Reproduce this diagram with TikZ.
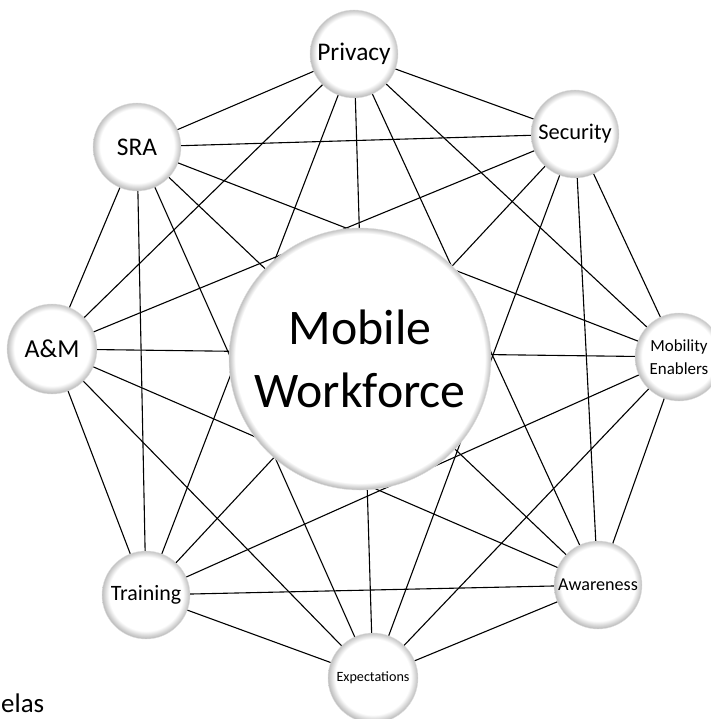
\documentclass[tikz,border=0pt]{standalone}
\usepackage{fontspec}
\setmainfont{Carlito}
\usetikzlibrary{backgrounds}
\definecolor{rimColor}{HTML}{BEBEBE}
\definecolor{outlineColor}{HTML}{E0E0E0}
\definecolor{linkColor}{HTML}{000000}
\definecolor{labelTextColor}{HTML}{000000}
\def\textA{Privacy}
\def\textB{Security}
\def\textC{Mobility\\Enablers}
\def\textD{Awareness}
\def\textE{Expectations}
\def\textF{Training}
\def\textG{A\&M}
\def\textH{SRA}
\def\textI{Mobile\\Workforce}
\pgfdeclareradialshading{buttonShade}{\pgfpoint{0bp}{1bp}}{color(0bp)=(white); color(21bp)=(white); color(25bp)=(rimColor); color(50bp)=(rimColor)}
\pgfdeclareradialshading{bigShade}{\pgfpoint{0bp}{0.3bp}}{color(0bp)=(white); color(23.8bp)=(white); color(25bp)=(rimColor); color(50bp)=(rimColor)}

\begin{document}
\begin{tikzpicture}[x=1bp,y=-1bp,
  bubble/.style={circle, inner sep=0pt, minimum size=88bp, shade, shading=buttonShade,
    draw=outlineColor, line width=0.4bp, align=center, text=labelTextColor},
  link/.style={color=linkColor, line width=1.1bp}]

% page frame
\useasboundingbox (0, 0) rectangle (711, 719);
\clip (0, 0) rectangle (711, 719);

% node layer
\begin{scope}
\node[bubble, font=\fontsize{25.5}{30}\selectfont] (privacy) at (354, 54) {\textA};
\node[bubble, font=\fontsize{22.5}{27}\selectfont] (security) at (575, 134) {\textB};
\node[bubble, font=\fontsize{17}{22.5}\selectfont] (mobility) at (679, 357) {\textC};
\node[bubble, font=\fontsize{18.2}{22}\selectfont] (awareness) at (598, 585) {\textD};
\node[bubble, minimum size=90bp, font=\fontsize{14.2}{18}\selectfont] (expectations) at (373, 678) {\textE};
\node[bubble, font=\fontsize{22}{26}\selectfont] (training) at (146, 595) {\textF};
\node[bubble, minimum size=90bp, font=\fontsize{26}{30}\selectfont] (am) at (52, 349) {\textG};
\node[bubble, font=\fontsize{25.5}{30}\selectfont] (sra) at (137, 147) {\textH};
\end{scope}

% link layer
\begin{scope}
\draw[link] (privacy) -- (security);
\draw[link] (privacy) -- (mobility);
\draw[link] (privacy) -- (awareness);
\draw[link] (privacy) -- (expectations);
\draw[link] (privacy) -- (training);
\draw[link] (privacy) -- (am);
\draw[link] (privacy) -- (sra);
\draw[link] (security) -- (mobility);
\draw[link] (security) -- (awareness);
\draw[link] (security) -- (expectations);
\draw[link] (security) -- (training);
\draw[link] (security) -- (am);
\draw[link] (security) -- (sra);
\draw[link] (mobility) -- (awareness);
\draw[link] (mobility) -- (expectations);
\draw[link] (mobility) -- (training);
\draw[link] (mobility) -- (am);
\draw[link] (mobility) -- (sra);
\draw[link] (awareness) -- (expectations);
\draw[link] (awareness) -- (training);
\draw[link] (awareness) -- (am);
\draw[link] (awareness) -- (sra);
\draw[link] (expectations) -- (training);
\draw[link] (expectations) -- (am);
\draw[link] (expectations) -- (sra);
\draw[link] (training) -- (am);
\draw[link] (training) -- (sra);
\draw[link] (am) -- (sra);
\end{scope}

% centre on top
\node[bubble, minimum size=262bp, shading=bigShade, font=\fontsize{50}{63}\selectfont]
  (workforce) at (360, 359) {\textI};

% stray caption
\node[anchor=base west, inner sep=0pt, font=\fontsize{27}{32}\selectfont] (caption) at (1, 712) {elas};

\end{tikzpicture}
\end{document}
